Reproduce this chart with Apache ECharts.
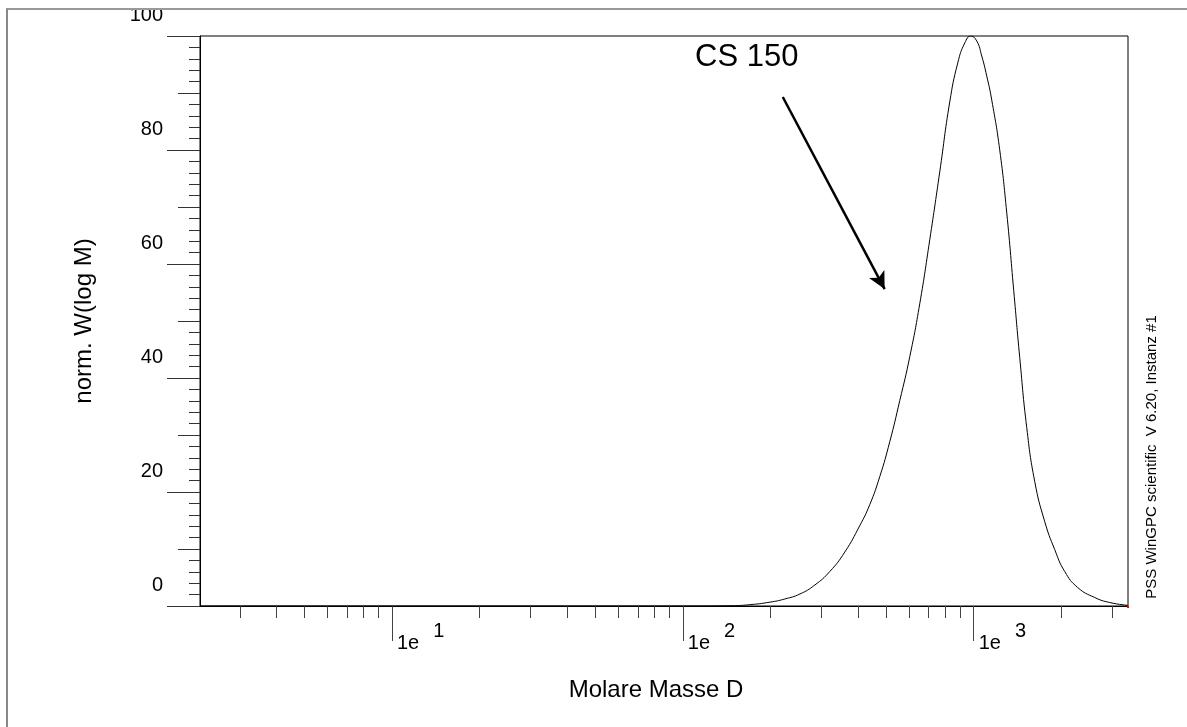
<!DOCTYPE html>
<html>
<head>
<meta charset="utf-8">
<script src="https://cdn.jsdelivr.net/npm/echarts@6/dist/echarts.min.js"></script>
<style>
html,body{margin:0;padding:0;background:#fff;}
#chart{width:1187px;height:727px;}
</style>
</head>
<body>
<div id="chart"></div>
<script>
// ---- data ----
var molarMass = [2.19, 100, 145.0, 169.9, 199.0, 224.2, 252.5, 284.2, 320.1, 360.4, 405.8, 439.2, 475.3, 514.5, 556.8, 602.7, 652.2, 705.9, 764.1, 827.0, 881.1, 931.3, 976.5, 1024.0, 1065.3, 1108.3, 1153.0, 1228.2, 1298.5, 1372.4, 1439.2, 1521.2, 1620.6, 1753.8, 1897.9, 2054.6, 2277.1, 2605.0, 2933.6, 3381.8];
var wLogM = [0, 0, 0.04, 0.23, 0.67, 1.23, 2.10, 3.68, 6.05, 9.47, 14.11, 17.79, 22.70, 28.83, 36.02, 43.73, 53.02, 64.24, 76.16, 88.43, 95.27, 98.77, 100, 99.12, 96.49, 92.99, 88.78, 80.02, 68.97, 55.30, 43.56, 31.29, 21.82, 14.81, 9.90, 6.05, 3.24, 1.49, 0.61, 0.12];
var xMin = 2.19, xMax = 3390;
var decadeTicks = [10, 100, 1000];
var minorXTicks = [3, 4, 5, 6, 7, 8, 9, 20, 30, 40, 50, 60, 70, 80, 90, 200, 300, 400, 500, 600, 700, 800, 900, 2000, 3000];
var yTickLabels = ['0', '20', '40', '60', '80', '100'];
var arrowFrom = [220.6, 89.3];
var arrowTo = [494, 55.6];
var annotation = 'CS 150';
var footer = 'PSS WinGPC scientific  V 6.20, Instanz #1';

var FONT = 'Liberation Sans, Arial, Helvetica, sans-serif';
var seriesData = molarMass.map(function (m, i) { return [m, wLogM[i]]; });

var chart = echarts.init(document.getElementById('chart'), null, {renderer: 'canvas'});
var option = {
  animation: false,
  backgroundColor: '#fff',
  grid: {left: 200, top: 36, right: 59, bottom: 121, show: true, borderColor: '#000', borderWidth: 1, backgroundColor: 'transparent'},
  xAxis: [{
    type: 'log', min: xMin, max: xMax, position: 'bottom',
    name: 'Molare Masse D', nameLocation: 'middle', nameGap: 72,
    nameTextStyle: {fontFamily: FONT, fontSize: 24, color: '#000', padding: [0, 16, 0, 0]},
    axisLine: {show: true, lineStyle: {color: '#000', width: 1}},
    axisTick: {show: true, length: 35, customValues: decadeTicks, lineStyle: {color: '#444', width: 1}},
    axisLabel: {
      show: true, customValues: decadeTicks, margin: 27, align: 'left', verticalAlign: 'top',
      padding: [0, 0, 0, 5],
      fontFamily: FONT, fontSize: 20, color: '#000',
      formatter: function (v) { return '{b|1e}{s|' + Math.round(Math.log10(v)) + '}'; },
      rich: {
        b: {fontFamily: FONT, fontSize: 20, lineHeight: 20, color: '#000', verticalAlign: 'bottom'},
        s: {fontFamily: FONT, fontSize: 20, lineHeight: 20, color: '#000', verticalAlign: 'bottom', padding: [0, 0, 12, 14]}
      }
    },
    splitLine: {show: false}, minorTick: {show: false}
  }, {
    type: 'log', min: xMin, max: xMax, position: 'bottom', gridIndex: 0,
    axisLine: {show: false},
    axisTick: {show: true, length: 12, customValues: minorXTicks, lineStyle: {color: '#444', width: 1}},
    axisLabel: {show: false}, splitLine: {show: false}
  }],
  yAxis: [{
    type: 'value', min: 0, max: 100, interval: 20, position: 'left',
    name: 'norm. W(log M)', nameLocation: 'middle', nameGap: 104, nameRotate: 90,
    nameTextStyle: {fontFamily: FONT, fontSize: 24, color: '#000'},
    axisLine: {show: true, lineStyle: {color: '#000', width: 1}},
    axisTick: {show: true, length: 33, lineStyle: {color: '#333', width: 1}},
    minorTick: {show: true, splitNumber: 10, length: 11, lineStyle: {color: '#333', width: 1}},
    axisLabel: {
      show: true, margin: 37, align: 'right', verticalAlign: 'bottom', lineHeight: 20,
      padding: [0, 0, 11, 0], fontFamily: FONT, fontSize: 20, color: '#000',
      formatter: function (v) { return yTickLabels[Math.round(v / 20)]; }
    },
    splitLine: {show: false}, minorSplitLine: {show: false}
  }, {
    type: 'value', min: 0, max: 100, interval: 10, position: 'left', gridIndex: 0,
    axisLine: {show: false},
    axisTick: {show: true, length: 22, lineStyle: {color: '#333', width: 1}},
    axisLabel: {show: false}, splitLine: {show: false}
  }],
  series: [{
    type: 'line', xAxisIndex: 0, yAxisIndex: 0,
    data: seriesData, showSymbol: false, symbol: 'none',
    smooth: 0.5,
    lineStyle: {color: '#000', width: 1}, silent: true,
    markLine: {
      silent: true, animation: false,
      symbol: ['none', 'arrow'], symbolSize: [13, 17],
      label: {show: false},
      lineStyle: {color: '#000', width: 2.5, type: 'solid'},
      data: [[{coord: arrowFrom}, {coord: arrowTo}]]
    }
  }],
  graphic: [
    {type: 'text', left: 695, top: 42, z: 50,
     style: {text: annotation, font: '31px ' + FONT, fill: '#000'}},
    {type: 'text', x: 1152, y: 457, rotation: Math.PI / 2, z: 50,
     style: {text: footer, font: '15px ' + FONT, fill: '#000', align: 'center', verticalAlign: 'middle'}},
    {type: 'rect', shape: {x: 1127, y: 606, width: 2, height: 2}, style: {fill: '#f00'}, z: 60},
    {type: 'rect', shape: {x: 0, y: 0, width: 1187, height: 8}, style: {fill: '#fff'}, z: 90},
    {type: 'line', shape: {x1: 6, y1: 9, x2: 1187, y2: 9}, style: {stroke: '#999', lineWidth: 2}, z: 95},
    {type: 'line', shape: {x1: 7, y1: 9, x2: 7, y2: 727}, style: {stroke: '#888', lineWidth: 2}, z: 95}
  ]
};
chart.setOption(option);
</script>
</body>
</html>
